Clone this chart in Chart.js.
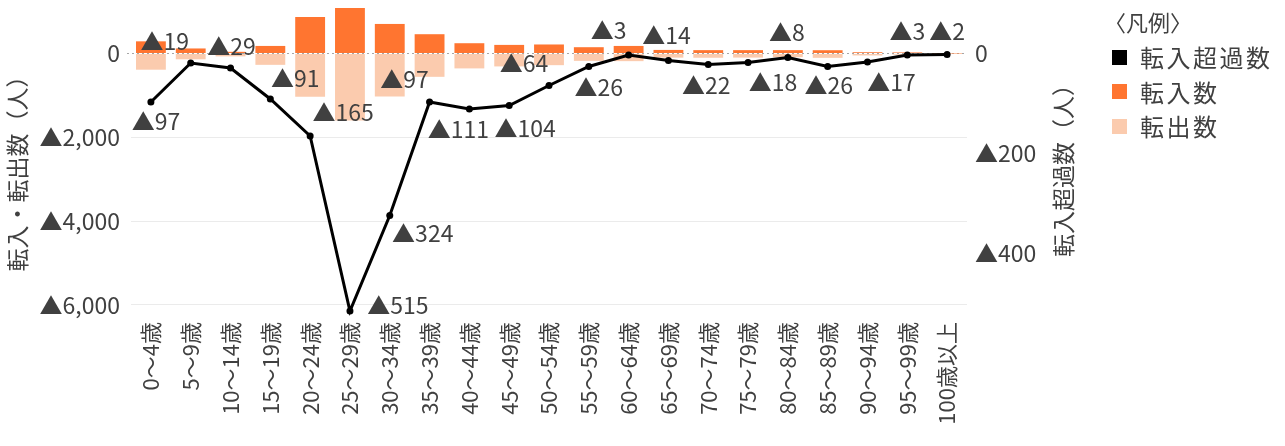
<!DOCTYPE html>
<html><head><meta charset="utf-8">
<script src="https://cdn.jsdelivr.net/npm/chart.js@4"></script>
<style>
html,body{margin:0;padding:0;background:#fff;}
#wrap{position:relative;width:1285px;height:446px;overflow:hidden;background:#fff;}
#c{position:absolute;left:0;top:0;}
.lg{position:absolute;font-family:'Noto Sans CJK JP','Noto Sans',sans-serif;color:#404040;white-space:nowrap;line-height:1;}
.sw{position:absolute;width:15px;height:15px;}
</style></head><body>
<div id="wrap"><canvas id="c" width="1285" height="446"></canvas><div id="legend"></div></div>
<script>
// ---- data ----
const categories = ['0～4歳','5～9歳','10～14歳','15～19歳','20～24歳','25～29歳','30～34歳','35～39歳','40～44歳','45～49歳','50～54歳','55～59歳','60～64歳','65～69歳','70～74歳','75～79歳','80～84歳','85～89歳','90～94歳','95～99歳','100歳以上'];
const inflow  = [290, 120, 40, 180, 870, 1085, 705, 460, 245, 205, 215, 150, 180, 85, 80, 80, 80, 78, 30, 25, 3];
const outflow = [387, 139, 69, 271, 1035, 1600, 1029, 557, 356, 309, 279, 176, 183, 99, 102, 98, 88, 104, 47, 28, 5];
const netMigration = [-97, -19, -29, -91, -165, -515, -324, -97, -111, -104, -64, -26, -3, -14, -22, -18, -8, -26, -17, -3, -2];
const leftTickValues = [0, -2000, -4000, -6000];
const rightTickValues = [0, -200, -400];
const seriesNames = ['転入超過数', '転入数', '転出数'];
const legendTitle = '〈凡例〉';
const leftTitle = '転入・転出数（人）';
const rightTitle = '転入超過数（人）';

// ---- styling ----
const colors = ['#000000', '#FF7530', '#FBCBAE'];
const FONT = "'Noto Sans CJK JP','Noto Sans',sans-serif";
const TXT = '#404040';
// label offsets (dx, dy) relative to each line point, as placed in the reference
const labelOffsets = [[5,19],[-26,-22],[1,-22],[25,-21],[33,-24],[48,-6],[33,18],[-25,-23],[-11,20],[16,23],[-25,-22],[10,21],[-20,-25],[-2,-25],[-2,21],[25,20],[-1,-25],[1,19],[24,20],[0,-24],[0,-23]];

const fmt = v => v === 0 ? '0' : (v < 0 ? '▲' : '') + Math.abs(v).toLocaleString('en-US');

const zeroLine = {
  id: 'zeroLine',
  beforeDatasetsDraw(chart) {
    const {ctx, chartArea} = chart;
    const y = Math.round(chart.scales.y.getPixelForValue(0)) + 0.5;
    ctx.save();
    ctx.strokeStyle = '#A6A6A6';
    ctx.lineWidth = 1;
    ctx.setLineDash([2, 3]);
    ctx.beginPath();
    ctx.moveTo(chartArea.left - 4, y);
    ctx.lineTo(chartArea.right, y);
    ctx.stroke();
    ctx.restore();
  }
};

const dataLabels = {
  id: 'dataLabels',
  afterDatasetsDraw(chart) {
    const {ctx} = chart;
    const meta = chart.getDatasetMeta(0);
    ctx.save();
    ctx.font = '23px ' + FONT;
    ctx.fillStyle = TXT;
    ctx.textAlign = 'center';
    ctx.textBaseline = 'middle';
    meta.data.forEach((pt, i) => {
      const o = labelOffsets[i] || [0, -22];
      ctx.fillText(fmt(netMigration[i]), pt.x + o[0], pt.y + o[1]);
    });
    ctx.restore();
  }
};

const axisTitles = {
  id: 'axisTitles',
  afterDraw(chart) {
    const {ctx} = chart;
    ctx.save();
    ctx.font = '23px ' + FONT;
    ctx.fillStyle = TXT;
    ctx.textAlign = 'center';
    ctx.textBaseline = 'middle';
    ctx.translate(17, 168);
    ctx.rotate(-Math.PI / 2);
    ctx.fillText(leftTitle, 0, 0);
    ctx.restore();
    ctx.save();
    ctx.font = '23px ' + FONT;
    ctx.fillStyle = TXT;
    ctx.textAlign = 'center';
    ctx.textBaseline = 'middle';
    ctx.translate(1063, 165);
    ctx.rotate(-Math.PI / 2);
    ctx.fillText(rightTitle, 0, 0);
    ctx.restore();
  }
};

const noPad = s => { s.paddingTop = 0; s.paddingBottom = 0; s.paddingLeft = 0; s.paddingRight = 0; };

new Chart(document.getElementById('c'), {
  type: 'bar',
  data: {
    labels: categories,
    datasets: [
      { type: 'line', label: seriesNames[0], data: netMigration, yAxisID: 'y2', order: 0,
        borderColor: colors[0], backgroundColor: colors[0], borderWidth: 3,
        pointRadius: 3.5, pointBackgroundColor: colors[0], pointBorderWidth: 0, tension: 0 },
      { label: seriesNames[1], data: inflow, yAxisID: 'y', order: 1, grouped: false,
        backgroundColor: colors[1], barPercentage: 0.75, categoryPercentage: 1 },
      { label: seriesNames[2], data: outflow.map(v => -v), yAxisID: 'y', order: 1, grouped: false,
        backgroundColor: colors[2], barPercentage: 0.75, categoryPercentage: 1 }
    ]
  },
  options: {
    responsive: false,
    animation: false,
    devicePixelRatio: 1,
    layout: { padding: { top: 4, left: 0, right: 0, bottom: 0 } },
    plugins: { legend: { display: false }, tooltip: { enabled: false } },
    scales: {
      x: {
        offset: true,
        grid: { display: false, drawTicks: false },
        border: { display: false },
        ticks: { font: { size: 22, family: FONT }, color: TXT, maxRotation: 90, minRotation: 90, padding: 6, autoSkip: false },
        afterFit: s => { s.height = 130; noPad(s); }
      },
      y: {
        position: 'left',
        min: -6265, max: 1181,
        grid: { color: ctx => ctx.tick && ctx.tick.value === 0 ? 'rgba(0,0,0,0)' : '#EBEBEB', drawTicks: false, lineWidth: 1 },
        border: { display: false },
        ticks: { font: { size: 23, family: FONT }, color: TXT, padding: 11, callback: v => fmt(v) },
        afterBuildTicks: s => { s.ticks = leftTickValues.map(v => ({ value: v })); },
        afterFit: s => { s.width = 131; noPad(s); }
      },
      y2: {
        position: 'right',
        min: -525, max: 99,
        grid: { display: false, drawTicks: false },
        border: { display: false },
        ticks: { font: { size: 23, family: FONT }, color: TXT, padding: 8, callback: v => fmt(v) },
        afterBuildTicks: s => { s.ticks = rightTickValues.map(v => ({ value: v })); },
        afterFit: s => { s.width = 318; noPad(s); }
      }
    }
  },
  plugins: [zeroLine, dataLabels, axisTitles]
});

// legend (HTML, real text)
(function () {
  const lg = document.getElementById('legend');
  const t = document.createElement('div');
  t.className = 'lg';
  t.style.cssText = 'left:1104px;top:10px;font-size:22px;';
  t.textContent = legendTitle;
  lg.appendChild(t);
  seriesNames.forEach((name, i) => {
    const cy = 57 + i * 34.5;
    const sw = document.createElement('div');
    sw.className = 'sw';
    sw.style.cssText = `left:1112px;top:${cy - 7.5}px;background:${colors[i]};`;
    lg.appendChild(sw);
    const d = document.createElement('div');
    d.className = 'lg';
    d.style.cssText = `left:1140px;top:${cy - 12}px;font-size:24px;letter-spacing:2.5px;`;
    d.textContent = name;
    lg.appendChild(d);
  });
})();
</script>
</body></html>
